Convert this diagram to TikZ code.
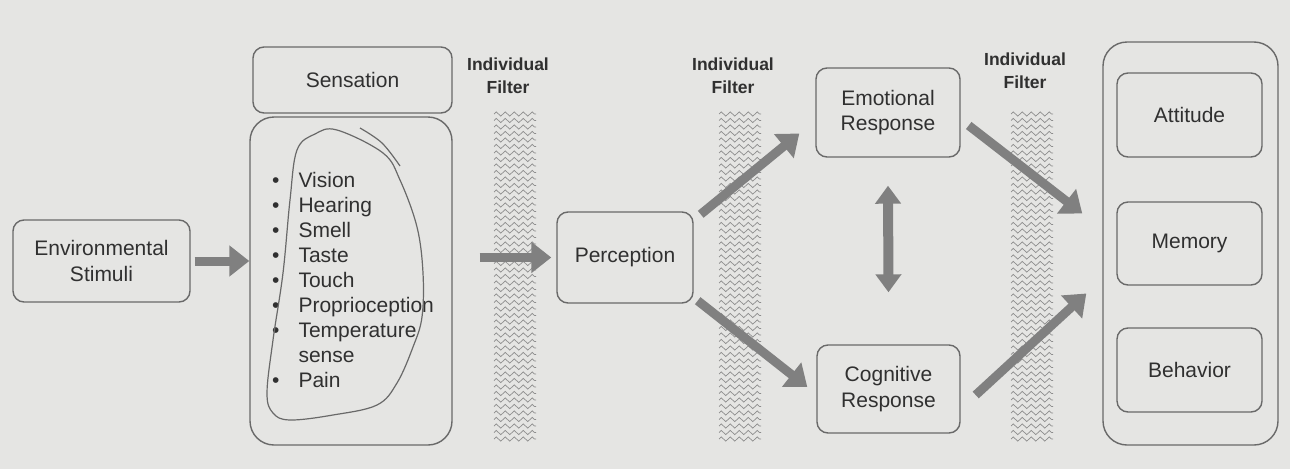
\documentclass[tikz,border=0pt]{standalone}
\usepackage{fontspec}
\setmainfont{Liberation Sans}
\usetikzlibrary{arrows.meta,decorations.pathmorphing}
\definecolor{paper}{RGB}{229,229,227}
\definecolor{ink}{RGB}{48,48,48}
\definecolor{boxline}{RGB}{105,105,105}
\definecolor{arrowgray}{RGB}{128,128,128}
\definecolor{zigline}{RGB}{140,140,140}

\begin{document}
\begin{tikzpicture}[x=1pt, y=-1pt,
  box/.style={draw=boxline, line width=1.4pt, rounded corners=11pt, text=ink,
    align=center, inner sep=0pt, font=\fontsize{21}{25.5}\selectfont},
  bigbox/.style={box, rounded corners=24pt},
  fat/.style={draw=arrowgray, line width=9pt, -{Triangle[length=20pt,width=30pt]}},
  fatboth/.style={draw=arrowgray, line width=10pt,
    {Triangle[length=18pt,width=25pt]}-{Triangle[length=18pt,width=25pt]}},
  filterlabel/.style={text=ink, align=center, font=\bfseries\fontsize{17.5}{23}\selectfont},
  zig/.style={draw=zigline, line width=0.7pt, decorate,
    decoration={zigzag, segment length=9pt, amplitude=2.2pt}},
  pen/.style={draw=boxline, line width=1.2pt}]
  \fill [paper] (0, 0) rectangle (1290, 469);

  % filters
  \foreach \x in {515, 740, 1032}
    \foreach \yy in {114, 120.5, ..., 440}
      \draw [zig] (\x-21, \yy) -- (\x+21, \yy);
  \node [filterlabel] (F1) at (508, 76) {Individual\\Filter};
  \node [filterlabel] (F2) at (733, 76) {Individual\\Filter};
  \node [filterlabel] (F3) at (1025, 71) {Individual\\Filter};

  \node [box, minimum width=177pt, minimum height=82pt] (ENV) at (101.5, 261) {Environmental\\Stimuli};
  \node [box, minimum width=199pt, minimum height=66pt] (SEN) at (352.5, 80) {Sensation};
  \node [bigbox, minimum width=202pt, minimum height=328pt] (LST) at (351, 281) {};
  \node [text=ink, inner sep=0pt, anchor=west, font=\fontsize{21}{25}\selectfont] (SNS) at (272, 282.5)
    {\begin{tabular}{@{}l@{\hspace{19pt}}l@{}}
      \textbullet & Vision\\
      \textbullet & Hearing\\
      \textbullet & Smell\\
      \textbullet & Taste\\
      \textbullet & Touch\\
      \textbullet & Proprioception\\
      \textbullet & Temperature\\
                  & sense\\
      \textbullet & Pain
    \end{tabular}};
  \node [box, minimum width=136pt, minimum height=91pt] (PER) at (625, 257.5) {Perception};
  \node [box, minimum width=144pt, minimum height=89pt] (EMO) at (888, 112.5) {Emotional\\Response};
  \node [box, minimum width=143pt, minimum height=88pt] (COG) at (888.5, 389) {Cognitive\\Response};
  \node [bigbox, minimum width=175pt, minimum height=403pt] (OUT) at (1190.5, 243.5) {};
  \node [box, minimum width=145pt, minimum height=84pt] (ATT) at (1189.5, 115) {Attitude};
  \node [box, minimum width=145pt, minimum height=83pt] (MEM) at (1189.5, 243.5) {Memory};
  \node [box, minimum width=145pt, minimum height=84pt] (BEH) at (1189.5, 370) {Behavior};

  % pen marks round the list
  \draw [pen] plot [smooth cycle, tension=0.6] coordinates {(337, 130) (383, 153) (400, 180)
    (417, 227) (423, 273) (422, 317) (413, 347) (397, 383) (377, 405) (333, 415) (290, 420)
    (273, 413) (267, 393) (273, 340) (283, 273) (290, 200) (297, 150) (315, 134)};
  \draw [pen] plot [smooth, tension=0.6] coordinates {(360, 128) (382, 143) (400, 166)};

  \draw [fat, shorten <=4pt] (ENV.east) -- (ENV.east -| LST.west);
  \draw [fat, shorten <=27pt, shorten >=5pt] (LST.east |- PER.west) -- (PER.west);
  \draw [fat] ([xshift=7pt, yshift=-3pt] PER.north east) -- ([xshift=-16pt, yshift=-21pt] EMO.west);
  \draw [fat] ([xshift=4pt, yshift=3pt] PER.south east) -- ([xshift=-9pt, yshift=2pt] COG.west);
  \draw [fatboth] ([yshift=-28pt] EMO.south) -- ([yshift=52pt] COG.north);
  \draw [fat] ([xshift=8pt, yshift=-13pt] EMO.east) -- ([xshift=-20pt, yshift=30pt] OUT.west);
  \draw [fat] ([xshift=15pt, yshift=-6pt] COG.east) -- ([xshift=-16pt, yshift=-50pt] OUT.west);
\end{tikzpicture}
\end{document}
